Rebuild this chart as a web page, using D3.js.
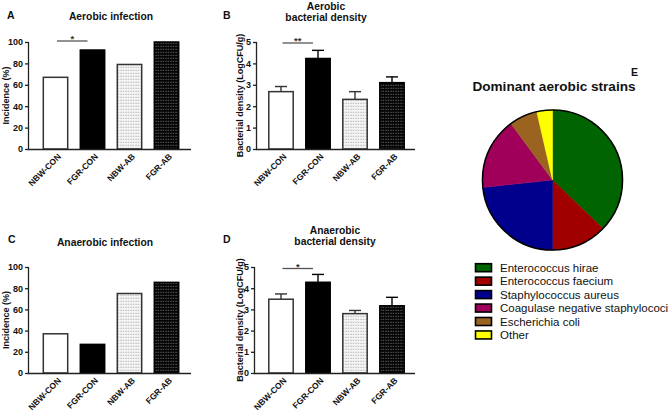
<!DOCTYPE html>
<html><head><meta charset="utf-8">
<script src="https://cdn.jsdelivr.net/npm/d3@7"></script>
<style>
html,body{margin:0;padding:0;background:#fff;}
svg{display:block;font-family:"Liberation Sans",Arial,Helvetica,sans-serif;}
</style></head>
<body>
<svg id="c" width="669" height="413"></svg>
<script>
// ---------------- DATA ----------------
const groups = ["NBW-CON", "FGR-CON", "NBW-AB", "FGR-AB"];
const aerobicIncidence = [67, 92.5, 79, 100];
const anaerobicIncidence = [37, 27, 75, 85.5];
const aerobicDensity = [2.68, 4.23, 2.32, 3.1];
const aerobicDensitySem = [0.24, 0.38, 0.36, 0.27];
const anaerobicDensity = [3.48, 4.28, 2.8, 3.17];
const anaerobicDensitySem = [0.25, 0.37, 0.15, 0.4];
const incidenceTicks = [0, 20, 40, 60, 80, 100];
const densityTicks = [0, 1, 2, 3, 4, 5];
const strains = ["Enterococcus hirae", "Enterococcus faecium", "Staphylococcus aureus",
  "Coagulase negative staphylococi", "Escherichia coli", "Other"];
const strainShares = [37.2, 12.8, 23.3, 16.6, 6.5, 3.6];
const strainColors = ["#006400", "#a00000", "#00008c", "#a0005a", "#9a6420", "#ffff00"];

// ---------------- DRAW ----------------
const svg = d3.select("#c");
const defs = svg.append("defs");
function dotPattern(id, bg, dot) {
  const p = defs.append("pattern").attr("id", id).attr("patternUnits", "userSpaceOnUse")
    .attr("width", 2.5).attr("height", 3);
  p.append("rect").attr("width", 2.5).attr("height", 3).attr("fill", bg);
  p.append("rect").attr("x", 0.5).attr("y", 0.8).attr("width", 1).attr("height", 1).attr("fill", dot);
}
dotPattern("pLight", "#f4f4f4", "#9a9a9a");
dotPattern("pDark", "#050505", "#8a8a8a");
const fills = ["#ffffff", "#000000", "url(#pLight)", "url(#pDark)"];
const strokes = ["#333", "#000", "#333", "#000"];
const font = "'Liberation Sans',Arial,sans-serif";

function panel(cfg) {
  const g = svg.append("g");
  const y = d3.scaleLinear().domain([0, cfg.max]).range([cfg.bottom, cfg.top]);
  const x = d3.scaleBand().domain(groups).range([cfg.bandStart, cfg.bandStart + 148])
    .paddingInner(0.3).paddingOuter(0.15);
  const bw = x.bandwidth();
  g.selectAll("rect.bar").data(groups).join("rect").attr("class", "bar")
    .attr("x", d => x(d) + 0.75).attr("width", bw - 1.5)
    .attr("y", (d, i) => y(cfg.values[i])).attr("height", (d, i) => cfg.bottom - y(cfg.values[i]))
    .attr("fill", (d, i) => fills[i]).attr("stroke", (d, i) => strokes[i]).attr("stroke-width", 1.5);
  if (cfg.sem) {
    groups.forEach((d, i) => {
      const cx = x(d) + bw / 2, top = y(cfg.values[i] + cfg.sem[i]);
      g.append("line").attr("x1", cx).attr("x2", cx).attr("y1", y(cfg.values[i])).attr("y2", top)
        .attr("stroke", i % 2 ? "#000" : "#333").attr("stroke-width", 1.4);
      g.append("line").attr("x1", cx - 6).attr("x2", cx + 6).attr("y1", top).attr("y2", top)
        .attr("stroke", i % 2 ? "#000" : "#333").attr("stroke-width", 1.4);
    });
  }
  const ya = g.append("g").attr("transform", `translate(${cfg.axisX},0)`)
    .call(d3.axisLeft(y).tickValues(cfg.ticks).tickSize(4).tickPadding(2).tickFormat(d3.format("d")));
  ya.select(".domain").attr("stroke", "#222").attr("stroke-width", 1.3).attr("d", `M-0.5,${cfg.top}V${cfg.bottom}`);
  ya.selectAll(".tick line").attr("stroke", "#222").attr("stroke-width", 1.3);
  ya.selectAll("text").attr("font-family", font).attr("font-size", 9).attr("font-weight", "bold").attr("fill", "#111");
  g.append("line").attr("x1", cfg.axisX - 1).attr("x2", cfg.xEnd).attr("y1", cfg.bottom + 0.5).attr("y2", cfg.bottom + 0.5)
    .attr("stroke", "#222").attr("stroke-width", 1.3);
  // x labels, rotated 45°
  groups.forEach(d => {
    const cx = x(d) + bw / 2 + 4, cy = cfg.bottom + 6;
    g.append("g").attr("transform", `translate(${cx},${cy})`).append("g").attr("transform", "rotate(-45)")
      .append("text").attr("text-anchor", "end").attr("dy", "0.35em")
      .attr("font-family", font).attr("font-size", 8.5).attr("font-weight", "bold").attr("fill", "#111").text(d);
  });
  g.append("text").attr("transform", `translate(${cfg.yTitleX},${(cfg.top + cfg.bottom) / 2}) rotate(-90)`)
    .attr("text-anchor", "middle").attr("dy", "0.35em")
    .attr("font-family", font).attr("font-size", 9).attr("font-weight", "bold").attr("fill", "#111").text(cfg.yTitle);
  cfg.title.forEach((t, i) => {
    g.append("text").attr("x", cfg.titleX).attr("y", cfg.titleY + i * 11).attr("text-anchor", "middle")
      .attr("font-family", font).attr("font-size", 10.3).attr("font-weight", "bold").attr("fill", "#111").text(t);
  });
  g.append("text").attr("x", cfg.letterX).attr("y", cfg.letterY).attr("font-family", font)
    .attr("font-size", 10.5).attr("font-weight", "bold").attr("fill", "#111").text(cfg.letter);
  if (cfg.sig) {
    const x1 = x(groups[0]) + bw / 2 + 1.5, x2 = x(groups[1]) + bw / 2 - 5;
    const ly = y(cfg.max) + cfg.sigOffset;
    g.append("line").attr("x1", x1).attr("x2", x2).attr("y1", ly).attr("y2", ly)
      .attr("stroke", "#555").attr("stroke-width", 1.3);
    g.append("text").attr("x", (x1 + x2) / 2).attr("y", ly + 1).attr("text-anchor", "middle")
      .attr("font-family", font).attr("font-size", 9.5).attr("font-weight", "bold").attr("fill", "#333").text(cfg.sig);
  }
}

panel({ values: aerobicIncidence, max: 100, ticks: incidenceTicks, top: 42, bottom: 149, axisX: 29, bandStart: 37, xEnd: 191,
  yTitle: "Incidence (%)", yTitleX: 6, title: ["Aerobic infection"], titleX: 111, titleY: 20, letter: "A", letterX: 7, letterY: 18.5,
  sig: "*", sigOffset: -1 });
panel({ values: aerobicDensity, sem: aerobicDensitySem, max: 5, ticks: densityTicks, top: 42, bottom: 149, axisX: 257, bandStart: 262.5, xEnd: 415,
  yTitle: "Bacterial density (LogCFU/g)", yTitleX: 240, title: ["Aerobic", "bacterial density"], titleX: 326, titleY: 10, letter: "B", letterX: 223, letterY: 18.5,
  sig: "**", sigOffset: 1 });
panel({ values: anaerobicIncidence, max: 100, ticks: incidenceTicks, top: 267, bottom: 373, axisX: 29, bandStart: 37, xEnd: 191,
  yTitle: "Incidence (%)", yTitleX: 6, title: ["Anaerobic infection"], titleX: 105, titleY: 245.5, letter: "C", letterX: 8, letterY: 242.7 });
panel({ values: anaerobicDensity, sem: anaerobicDensitySem, max: 5, ticks: densityTicks, top: 267, bottom: 373, axisX: 255, bandStart: 262.5, xEnd: 415,
  yTitle: "Bacterial density (LogCFU/g)", yTitleX: 240, title: ["Anaerobic", "bacterial density"], titleX: 335, titleY: 233.5, letter: "D", letterX: 223, letterY: 242.7,
  sig: "*", sigOffset: 1.5 });

// ---------------- PIE ----------------
const pg = svg.append("g").attr("transform", "translate(552.5,180)");
const pie = d3.pie().sort(null).value(d => d)(strainShares);
const arc = d3.arc().innerRadius(0).outerRadius(70);
pg.selectAll("path").data(pie).join("path").attr("d", arc)
  .attr("fill", (d, i) => strainColors[i]).attr("stroke", (d, i) => strainColors[i]).attr("stroke-width", 0.5);
pg.append("circle").attr("r", 70).attr("fill", "none").attr("stroke", "#000").attr("stroke-width", 1.6);

svg.append("text").attr("x", 554).attr("y", 91).attr("text-anchor", "middle").attr("font-family", font)
  .attr("font-size", 13.6).attr("font-weight", "bold").attr("fill", "#111").text("Dominant aerobic strains");
svg.append("text").attr("x", 631).attr("y", 76).attr("font-family", font)
  .attr("font-size", 10.5).attr("font-weight", "bold").attr("fill", "#111").text("E");

const lg = svg.append("g");
strains.forEach((s, i) => {
  const cy = 267.7 + i * 13.45;
  lg.append("rect").attr("x", 475.5).attr("y", cy - 4).attr("width", 16).attr("height", 8)
    .attr("fill", strainColors[i]).attr("stroke", "#000").attr("stroke-width", 1.6);
  lg.append("text").attr("x", 500).attr("y", cy).attr("dy", "0.36em").attr("font-family", font)
    .attr("font-size", 11.5).attr("fill", "#111").text(s);
});
</script>
</body></html>
